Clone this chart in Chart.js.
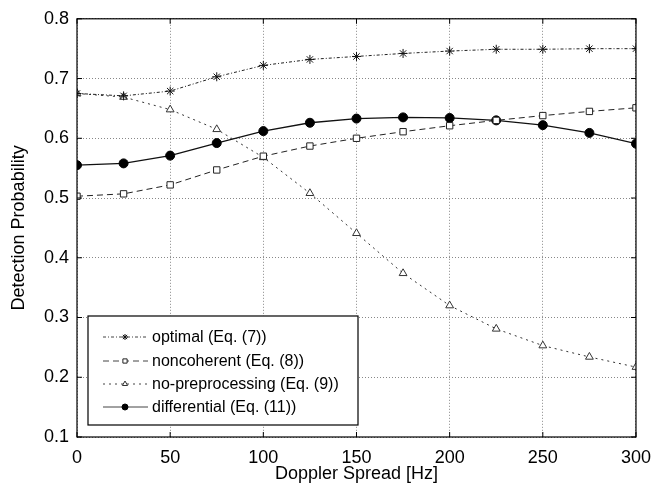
<!DOCTYPE html>
<html>
<head>
<meta charset="utf-8">
<script src="https://cdn.jsdelivr.net/npm/chart.js@4"></script>
<style>
  html, body { margin: 0; padding: 0; background: #fff; }
  #wrap { width: 661px; height: 489px; }
</style>
</head>
<body>
<div id="wrap"><canvas id="chart" width="661" height="489"></canvas></div>
<script>
// Detection probability vs Doppler spread

const dopplerHz = [0, 25, 50, 75, 100, 125, 150, 175, 200, 225, 250, 275, 300];
const optimal = [0.675, 0.671, 0.679, 0.703, 0.722, 0.732, 0.737, 0.742, 0.746, 0.749, 0.749, 0.750, 0.750];
const noncoherent = [0.503, 0.507, 0.522, 0.547, 0.570, 0.587, 0.600, 0.611, 0.621, 0.630, 0.638, 0.645, 0.651];
const noPreprocessing = [0.675, 0.669, 0.648, 0.615, 0.568, 0.508, 0.441, 0.374, 0.320, 0.281, 0.253, 0.234, 0.217];
const differential = [0.555, 0.558, 0.571, 0.592, 0.612, 0.626, 0.633, 0.635, 0.634, 0.630, 0.622, 0.609, 0.591];
const yTicks = [0.1, 0.2, 0.3, 0.4, 0.5, 0.6, 0.7, 0.8];
const xTicks = [0, 50, 100, 150, 200, 250, 300];

const FONT = 'Liberation Sans, Arial, sans-serif';

function pts(arr) {
  return arr.map((v, i) => ({ x: dopplerHz[i], y: v }));
}

const datasets = [
  {
    label: 'optimal (Eq. (7))',
    data: pts(optimal),
    borderColor: '#222',
    borderWidth: 1,
    borderDash: [3, 2, 1, 2],
    pointStyle: 'star',
    pointRadius: 4.5,
    pointBorderColor: '#111',
    pointBorderWidth: 1
  },
  {
    label: 'noncoherent (Eq. (8))',
    data: pts(noncoherent),
    borderColor: '#222',
    borderWidth: 1,
    borderDash: [6, 4],
    pointStyle: 'rect',
    pointRadius: 4.5,
    pointBackgroundColor: '#fff',
    pointBorderColor: '#222',
    pointBorderWidth: 1
  },
  {
    label: 'no-preprocessing (Eq. (9))',
    data: pts(noPreprocessing),
    borderColor: '#333',
    borderWidth: 1,
    borderDash: [2, 4],
    pointStyle: 'triangle',
    pointRadius: 4.5,
    pointBackgroundColor: '#fff',
    pointBorderColor: '#333',
    pointBorderWidth: 1
  },
  {
    label: 'differential (Eq. (11))',
    data: pts(differential),
    borderColor: '#111',
    borderWidth: 1.3,
    borderDash: [],
    pointStyle: 'circle',
    pointRadius: 4.5,
    pointBackgroundColor: '#000',
    pointBorderColor: '#000',
    pointBorderWidth: 1
  }
];

// frame, inward ticks and the boxed legend
const framePlugin = {
  id: 'frame',
  afterDraw(chart) {
    const { ctx, chartArea: { top, bottom, left, right }, scales: { x, y } } = chart;
    ctx.save();
    ctx.strokeStyle = '#000';
    ctx.lineWidth = 1.2;
    ctx.setLineDash([]);
    ctx.strokeRect(left, top, right - left, bottom - top);
    ctx.lineWidth = 1;
    for (const t of xTicks) {
      const px = x.getPixelForValue(t);
      ctx.beginPath();
      ctx.moveTo(px, bottom); ctx.lineTo(px, bottom - 5);
      ctx.moveTo(px, top); ctx.lineTo(px, top + 5);
      ctx.stroke();
    }
    for (const t of yTicks) {
      const py = y.getPixelForValue(t);
      ctx.beginPath();
      ctx.moveTo(left, py); ctx.lineTo(left + 5, py);
      ctx.moveTo(right, py); ctx.lineTo(right - 5, py);
      ctx.stroke();
    }

    // legend box
    const bx = 88, by = 316, bw = 270, bh = 109;
    ctx.fillStyle = '#fff';
    ctx.fillRect(bx, by, bw, bh);
    ctx.strokeStyle = '#000';
    ctx.lineWidth = 1.2;
    ctx.strokeRect(bx, by, bw, bh);
    ctx.font = '16px ' + FONT;
    ctx.textBaseline = 'middle';
    ctx.textAlign = 'left';
    const rows = [337, 361, 384, 407];
    chart.data.datasets.forEach((ds, i) => {
      const ry = rows[i];
      ctx.strokeStyle = '#444';
      ctx.lineWidth = 1;
      ctx.setLineDash(ds.borderDash);
      ctx.beginPath();
      ctx.moveTo(103, ry); ctx.lineTo(148, ry);
      ctx.stroke();
      ctx.setLineDash([]);
      ctx.fillStyle = ds.pointBackgroundColor || '#fff';
      ctx.strokeStyle = ds.pointBorderColor;
      ctx.lineWidth = 1;
      Chart.helpers.drawPoint(ctx, { pointStyle: ds.pointStyle, radius: 3, borderWidth: 1, rotation: 0 }, 125, ry);
      ctx.fillStyle = '#000';
      ctx.fillText(ds.label, 152, ry + 1);
    });
    ctx.restore();
  }
};

new Chart(document.getElementById('chart'), {
  type: 'line',
  data: { datasets },
  options: {
    responsive: false,
    animation: false,
    layout: { padding: { left: 0, top: 18, right: 24, bottom: 0 } },
    plugins: { legend: { display: false }, tooltip: { enabled: false } },
    elements: { line: { tension: 0, fill: false } },
    scales: {
      x: {
        type: 'linear',
        min: 0,
        max: 300,
        afterBuildTicks: s => { s.ticks = xTicks.map(v => ({ value: v })); },
        afterFit: s => { s.height = 52; },
        grid: { color: '#888', lineWidth: 1, drawTicks: false },
        border: { display: false, dash: [1, 2] },
        ticks: { color: '#000', padding: 10, font: { size: 18, family: FONT } },
        title: { display: true, text: 'Doppler Spread [Hz]', color: '#000', padding: { top: 0 }, font: { size: 18, family: FONT } }
      },
      y: {
        min: 0.1,
        max: 0.8,
        afterBuildTicks: s => { s.ticks = yTicks.map(v => ({ value: v })); },
        afterFit: s => { s.width = 77; },
        grid: { color: '#888', lineWidth: 1, drawTicks: false },
        border: { display: false, dash: [1, 2] },
        ticks: { color: '#000', padding: 8, font: { size: 18, family: FONT }, callback: v => v.toFixed(1) },
        title: { display: true, text: 'Detection Probability', color: '#000', padding: { top: 8, bottom: 0 }, font: { size: 18, family: FONT } }
      }
    }
  },
  plugins: [framePlugin]
});
</script>
</body>
</html>
